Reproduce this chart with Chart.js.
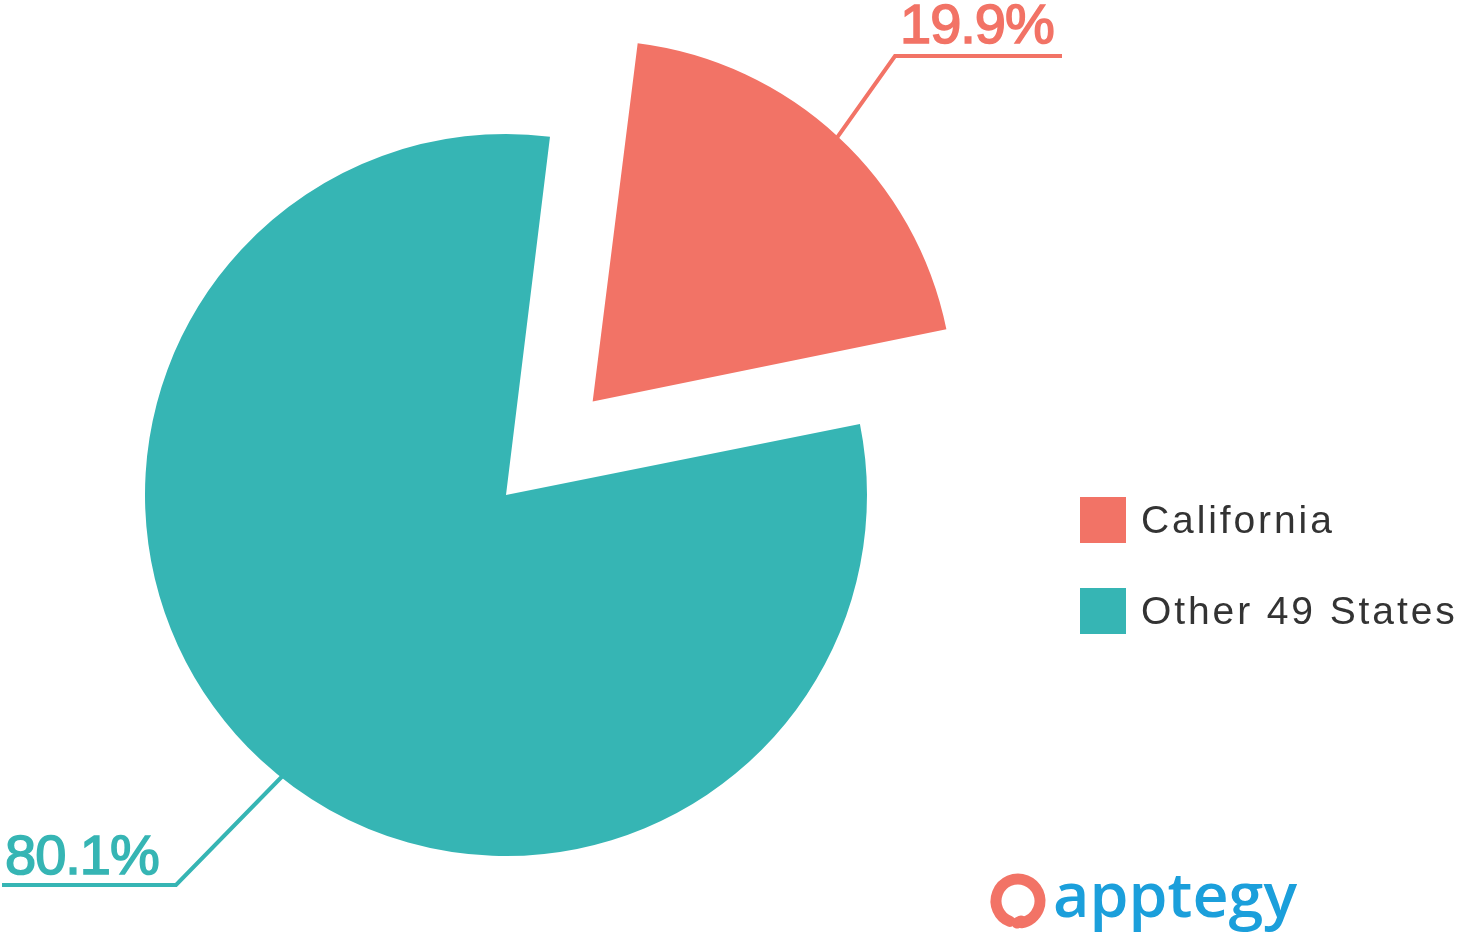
<!DOCTYPE html>
<html>
<head>
<meta charset="utf-8">
<script src="https://cdn.jsdelivr.net/npm/chart.js@4/dist/chart.umd.min.js"></script>
<style>
  html, body { margin: 0; padding: 0; background: #fff; overflow: hidden; }
  #wrap { width: 1460px; height: 937px; position: relative; }
</style>
</head>
<body>
<div id="wrap"><canvas id="pie"></canvas></div>
<script>
// ---- data ----
const labels = ["California", "Other 49 States"];
const shares = [19.9, 80.1];
const colors = ["#F27366", "#36B5B4"];
const valueLabels = ["19.9%", "80.1%"];

// ---- layout bits ----
const RADIUS = 361;
const PULL = 510; // chart.js draws offset/4 -> ~128px pull-out
const anchorFrac = [0.5, 0.485];   // where on each arc the leader starts
const elbows = [[895, 56], [176, 885]];
const lineEnds = [1062, 2];
const textPos = [[900, 43], [5, 874]];

// chart.js grows an offset arc's radius a bit; pull it back to match
const trimOffset = {
  id: "trimOffset",
  beforeDatasetDraw(chart) {
    chart.getDatasetMeta(0).data.forEach((arc) => {
      const off = (arc.options.offset || 0) / 4;
      const circ = arc.endAngle - arc.startAngle;
      const fix = 1 - Math.sin(Math.min(Math.PI, circ));
      arc.outerRadius = RADIUS - off * fix;
    });
  },
};

// leader lines, value labels, legend and logo
const decorations = {
  id: "decorations",
  afterDraw(chart) {
    const ctx = chart.ctx;
    const meta = chart.getDatasetMeta(0);

    meta.data.forEach((arc, i) => {
      const mid = (arc.startAngle + arc.endAngle) / 2;
      const a = arc.startAngle + (arc.endAngle - arc.startAngle) * anchorFrac[i];
      const pull = (arc.options.offset || 0) / 4;
      const cx = arc.x + Math.cos(mid) * pull;
      const cy = arc.y + Math.sin(mid) * pull;
      const sx = cx + Math.cos(a) * (RADIUS - 2);
      const sy = cy + Math.sin(a) * (RADIUS - 2);

      ctx.save();
      ctx.strokeStyle = colors[i];
      ctx.lineWidth = 4;
      ctx.beginPath();
      ctx.moveTo(sx, sy);
      ctx.lineTo(elbows[i][0], elbows[i][1]);
      ctx.lineTo(lineEnds[i], elbows[i][1]);
      ctx.stroke();

      ctx.fillStyle = colors[i];
      ctx.font = "56px 'Liberation Sans', Arial, sans-serif";
      ctx.textBaseline = "alphabetic";
      ctx.textAlign = "left";
      ctx.letterSpacing = "-1px";
      ctx.fillText(valueLabels[i], textPos[i][0], textPos[i][1]);
      ctx.lineWidth = 1.6;
      ctx.strokeText(valueLabels[i], textPos[i][0], textPos[i][1]);
      ctx.restore();
    });

    // legend
    ctx.save();
    labels.forEach((lab, i) => {
      const y = 497 + i * 91;
      ctx.fillStyle = colors[i];
      ctx.fillRect(1080, y, 46, 46);
      ctx.fillStyle = "#333333";
      ctx.font = "39px 'Liberation Sans', Arial, sans-serif";
      ctx.letterSpacing = "2.9px";
      ctx.textBaseline = "alphabetic";
      ctx.fillText(lab, 1141, y + 36);
    });
    ctx.restore();

    // logo
    ctx.save();
    ctx.strokeStyle = "#F27366";
    ctx.lineWidth = 11;
    ctx.lineCap = "round";
    ctx.beginPath();
    ctx.arc(1018, 901, 22, Math.PI * 0.62, Math.PI * 2.45);
    ctx.stroke();
    ctx.beginPath();
    ctx.moveTo(1021, 921);
    ctx.lineTo(1017, 923);
    ctx.stroke();

    ctx.fillStyle = "#1B9FDB";
    ctx.font = "600 62px 'Open Sans', sans-serif";
    ctx.textBaseline = "alphabetic";
    const word = "apptegy";
    const w = ctx.measureText(word).width;
    ctx.translate(1053, 917);
    ctx.scale(244 / w, 1);
    ctx.fillText(word, 0, 0);
    ctx.restore();
  },
};

new Chart(document.getElementById("pie"), {
  type: "pie",
  data: {
    labels: labels,
    datasets: [
      {
        data: shares,
        backgroundColor: colors,
        borderWidth: 0,
        offset: [PULL, 0],
        hoverOffset: 0,
        clip: false,
      },
    ],
  },
  options: {
    responsive: true,
    maintainAspectRatio: false,
    animation: false,
    rotation: 7,
    radius: RADIUS,
    layout: { padding: { left: 0, right: 448, top: 53, bottom: 0 } },
    events: [],
    plugins: {
      legend: { display: false },
      tooltip: { enabled: false },
      title: { display: false },
    },
  },
  plugins: [trimOffset, decorations],
});
</script>
</body>
</html>
